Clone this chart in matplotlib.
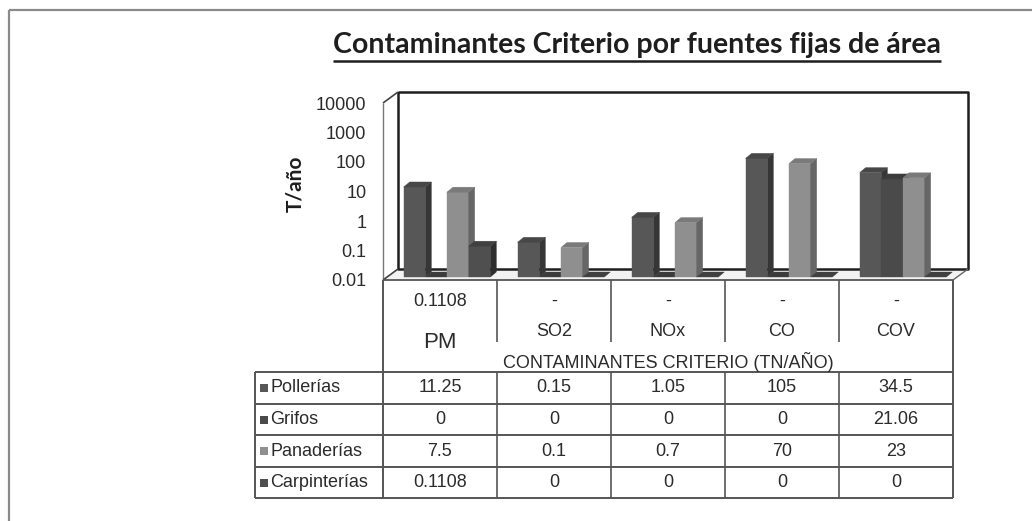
import numpy as np
import matplotlib
matplotlib.use('Agg')
import matplotlib.pyplot as plt
from matplotlib.patches import Polygon

# ── data ──────────────────────────────────────────────────────────────────────
categories = ['PM', 'SO2', 'NOx', 'CO', 'COV']
header_top = ['0.1108', '-', '-', '-', '-']
series = ['Pollerías', 'Grifos', 'Panaderías', 'Carpinterías']
pollerias = [11.25, 0.15, 1.05, 105, 34.5]
grifos = [0, 0, 0, 0, 21.06]
panaderias = [7.5, 0.1, 0.7, 70, 23]
carpinterias = [0.1108, 0, 0, 0, 0]
table_text = [['11.25', '0.15', '1.05', '105', '34.5'],
              ['0', '0', '0', '0', '21.06'],
              ['7.5', '0.1', '0.7', '70', '23'],
              ['0.1108', '0', '0', '0', '0']]
yticks = [0.01, 0.1, 1, 10, 100, 1000, 10000]
ytick_labels = ['0.01', '0.1', '1', '10', '100', '1000', '10000']

# ── style ─────────────────────────────────────────────────────────────────────
W, H = 1032, 521
face = {'Pollerías': ('#575757', '#363636', '#474747'),
        'Grifos': ('#4a4a4a', '#2d2d2d', '#3c3c3c'),
        'Panaderías': ('#8f8f8f', '#666666', '#7a7a7a'),
        'Carpinterías': ('#4f4f4f', '#2e2e2e', '#404040')}
TXT = '#2b2b2b'
TFONT = ['Liberation Sans', 'DejaVu Sans']
FS = 13
D = (15, -11)            # wall depth offset (px)
F = (7, -3)              # bar front offset
B = (13, -8)             # bar back offset
BAR_W = 0.19

fig = plt.figure(figsize=(W / 100, H / 100), dpi=100, facecolor='white')

# front plane of the 3d box: x 383..953, y 103..280 (image px)
ax = fig.add_axes([383 / W, 1 - 280 / H, 570 / W, 177 / H])
ax.set_yscale('log')
ax.set_ylim(0.01, 10000)
ax.set_xlim(-0.5, len(categories) - 0.5)
ax.set_xticks([])
ax.set_yticks(yticks)
ax.set_yticklabels(ytick_labels)
ax.minorticks_off()
ax.tick_params(axis='y', length=0, pad=12, labelsize=FS, labelcolor=TXT)
for lab in ax.get_yticklabels():
    lab.set_family(TFONT)
for s in ax.spines.values():
    s.set_visible(False)
ax.patch.set_alpha(0)
ax.set_zorder(0)

# overlay in image pixels for the pseudo-3d and the data table
ov = fig.add_axes([0, 0, 1, 1])
ov.set_xlim(0, W)
ov.set_ylim(H, 0)
ov.axis('off')
ov.patch.set_alpha(0)
ov.set_zorder(1)


def line(xs, ys, c='#555555', lw=1.2, z=2):
    ov.plot(xs, ys, color=c, lw=lw, zorder=z, solid_capstyle='butt')


# outer frame
line([9, W], [10, 10], c='#8a8a8a', lw=1.6)
line([9, 9], [10, H], c='#8a8a8a', lw=1.6)

# walls
x0, x1, yt, yb = 383, 953, 103, 280
ov.add_patch(Polygon([(x0, yb), (x1, yb), (x1 + D[0], yb + D[1]), (x0 + D[0], yb + D[1])],
                     closed=True, fc='#f2f2f2', ec='none', zorder=1))
line([x0 + D[0], x1 + D[0], x1 + D[0], x0 + D[0], x0 + D[0]],
     [yt + D[1], yt + D[1], yb + D[1], yb + D[1], yt + D[1]], c='#1e1e1e', lw=1.8, z=2)
line([x0, x0], [yt, yb], c='#777777', lw=1.0)
line([x0, x0 + D[0]], [yt, yt + D[1]], c='#444444', lw=1.2)
line([x0, x0 + D[0]], [yb, yb + D[1]], c='#444444', lw=1.2)
line([x1, x1 + D[0]], [yb, yb + D[1]], c='#666666', lw=1.0)


def to_px(x, y):
    d = ax.transData.transform((x, y))
    return d[0], H - d[1]


def poly(pts, fc, z):
    ov.add_patch(Polygon(pts, closed=True, fc=fc, ec=fc, lw=0.3, zorder=z))


values = [pollerias, grifos, panaderias, carpinterias]
z = 3
for i in range(len(categories)):
    for j, name in enumerate(series):
        v = values[j][i]
        xc = i + (j - 1.5) * BAR_W
        px0, pyb = to_px(xc - BAR_W / 2, 0.01)
        px1, pyt = to_px(xc + BAR_W / 2, max(v, 0.01))
        fr, sd, tp = face[name]
        if v > 0.01:
            poly([(px0 + F[0], pyb + F[1]), (px1 + F[0], pyb + F[1]),
                  (px1 + F[0], pyt + F[1]), (px0 + F[0], pyt + F[1])], fr, z)
            poly([(px1 + F[0], pyb + F[1]), (px1 + B[0], pyb + B[1]),
                  (px1 + B[0], pyt + B[1]), (px1 + F[0], pyt + F[1])], sd, z)
        poly([(px0 + F[0], pyt + F[1]), (px1 + F[0], pyt + F[1]),
              (px1 + B[0], pyt + B[1]), (px0 + B[0], pyt + B[1])], tp, z)
        z += 1

# front floor edge
line([x0, x1], [yb, yb], c='#555555', lw=1.3, z=60)

# ── data table ────────────────────────────────────────────────────────────────
cols = [383, 497, 611, 725, 839, 953]
rows = [372, 404, 435, 467, 498]
lx = 255
for yy in rows:
    line([lx, cols[-1]], [yy, yy], lw=1.4, z=60)
line([lx, lx], [rows[0], rows[-1]], lw=1.4, z=60)
line([cols[0], cols[0]], [yb, rows[-1]], lw=1.4, z=60)
line([cols[-1], cols[-1]], [yb, rows[-1]], lw=1.4, z=60)
for cx in cols[1:-1]:
    line([cx, cx], [yb, 342], lw=1.2, z=60)
    line([cx, cx], [rows[0], rows[-1]], lw=1.2, z=60)

centers = [(a + b) / 2 for a, b in zip(cols[:-1], cols[1:])]
for i, cat in enumerate(categories):
    ov.text(centers[i], 301, header_top[i], ha='center', va='center',
            fontsize=FS, color=TXT, family=TFONT, zorder=70)
    if i == 0:
        ov.text(centers[i], 343, cat, ha='center', va='center',
                fontsize=16, color=TXT, family=TFONT, zorder=70)
    else:
        ov.text(centers[i], 331, cat, ha='center', va='center',
                fontsize=FS, color=TXT, family=TFONT, zorder=70)
ov.text((cols[0] + cols[-1]) / 2, 362, 'CONTAMINANTES CRITERIO (TN/AÑO)',
        ha='center', va='center', fontsize=FS, color=TXT, family=TFONT, zorder=70)

for r, name in enumerate(series):
    yc = (rows[r] + rows[r + 1]) / 2
    ov.add_patch(plt.Rectangle((260, yc - 4), 8, 8, fc=face[name][0], ec='none', zorder=70))
    ov.text(270, yc, name, ha='left', va='center', fontsize=FS, color=TXT,
            family=TFONT, zorder=70)
    for i in range(len(categories)):
        ov.text(centers[i], yc, table_text[r][i], ha='center', va='center',
                fontsize=FS, color=TXT, family=TFONT, zorder=70)

# ── titles ────────────────────────────────────────────────────────────────────
ov.text(295, 184, 'T/año', rotation=90, ha='center', va='center', fontsize=15,
        fontweight='bold', color='#1e1e1e', family=['Lato', 'DejaVu Sans'], zorder=70)
title = ov.text(637, 45, 'Contaminantes Criterio por fuentes fijas de área',
                ha='center', va='center', fontsize=20.5, fontweight='bold',
                color='#1e1e1e', family=['Lato', 'DejaVu Sans'], zorder=70)
fig.canvas.draw()
bb = title.get_window_extent()
line([bb.x0, bb.x1], [61, 61], c='#1e1e1e', lw=1.8, z=70)

fig.savefig('out.png', dpi=100, facecolor='white')
